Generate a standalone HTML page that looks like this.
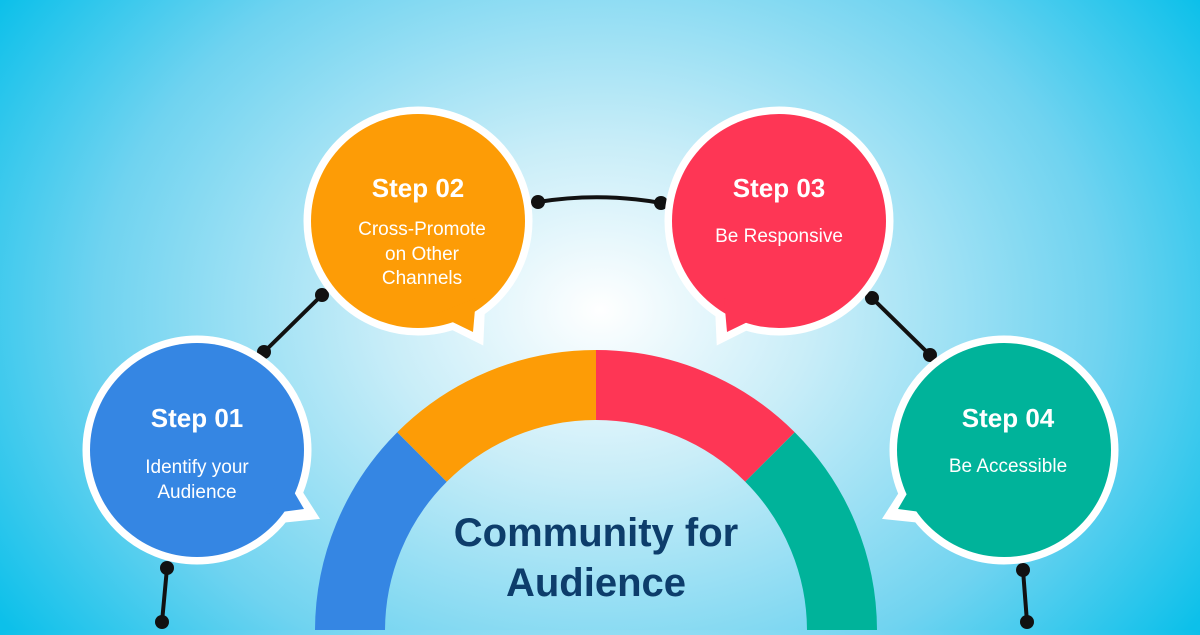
<!DOCTYPE html>
<html><head><meta charset="utf-8"><style>
html,body{margin:0;padding:0;}
body{width:1200px;height:630px;overflow:hidden;background:radial-gradient(ellipse 720px 560px at 600px 310px,#ffffff 0%,#c8edf8 30%,#6fd3f0 70%,#0cc0ea 100%);}
svg text{font-family:"Liberation Sans",sans-serif;}
</style></head><body>
<svg width="1200" height="630" viewBox="0 0 1200 630" xmlns="http://www.w3.org/2000/svg">
<g fill="none" stroke-width="70">
<path d="M350,631 A246,246 0 0 1 422,457" stroke="#3586e3"/>
<path d="M422,457 A246,246 0 0 1 596,385" stroke="#fd9c06"/>
<path d="M596,385 A246,246 0 0 1 770,457" stroke="#fe3655"/>
<path d="M770,457 A246,246 0 0 1 842,631" stroke="#00b39a"/>
</g>
<text x="596" y="546" text-anchor="middle" font-size="40" font-weight="bold" fill="#0d3d6b">Community for</text>
<text x="596" y="596" text-anchor="middle" font-size="40" font-weight="bold" fill="#0d3d6b">Audience</text>
<g stroke="#111" stroke-width="4" fill="none" stroke-linecap="round">
<path d="M264,352 L322,295"/>
<path d="M538,202 Q600,192 661,203"/>
<path d="M872,298 L930,355"/>
<path d="M167,568 L162,622"/>
<path d="M1023,570 L1027,622"/>
</g>
<g fill="#111">
<circle cx="264" cy="352" r="7"/><circle cx="322" cy="295" r="7"/>
<circle cx="538" cy="202" r="7"/><circle cx="661" cy="203" r="7"/>
<circle cx="872" cy="298" r="7"/><circle cx="930" cy="355" r="7"/>
<circle cx="167" cy="568" r="7"/><circle cx="162" cy="622" r="7"/>
<circle cx="1023" cy="570" r="7"/><circle cx="1027" cy="622" r="7"/>
</g>
<g fill="#fff" stroke="#fff" stroke-width="7" stroke-linejoin="miter">
<circle cx="197" cy="450" r="111"/>
<circle cx="418" cy="221" r="111"/>
<circle cx="779" cy="221" r="111"/>
<circle cx="1004" cy="450" r="111"/>
<path d="M282,466 L314,516 L266,521 Z"/>
<path d="M436,318 L480,340 L482,296 Z"/>
<path d="M764,318 L720,340 L718,296 Z"/>
<path d="M920,466 L888,516 L936,521 Z"/>
</g>
<g>
<circle cx="197" cy="450" r="107" fill="#3586e3"/>
<path d="M280,468 L304,509 L266,514 Z" fill="#3586e3"/>
<circle cx="418" cy="221" r="107" fill="#fd9c06"/>
<path d="M436,314 L473,332 L476,298 Z" fill="#fd9c06"/>
<circle cx="779" cy="221" r="107" fill="#fe3655"/>
<path d="M764,314 L727,332 L724,298 Z" fill="#fe3655"/>
<circle cx="1004" cy="450" r="107" fill="#00b39a"/>
<path d="M922,468 L898,509 L936,514 Z" fill="#00b39a"/>
</g>
<g fill="#fff" text-anchor="middle">
<text x="197" y="427" font-size="26" font-weight="bold">Step 01</text>
<text x="197" y="473" font-size="19">Identify your</text>
<text x="197" y="498" font-size="19">Audience</text>
<text x="418" y="197" font-size="26" font-weight="bold">Step 02</text>
<text x="422" y="235" font-size="19">Cross-Promote</text>
<text x="422" y="260" font-size="19">on Other</text>
<text x="422" y="284" font-size="19">Channels</text>
<text x="779" y="197" font-size="26" font-weight="bold">Step 03</text>
<text x="779" y="242" font-size="19">Be Responsive</text>
<text x="1008" y="427" font-size="26" font-weight="bold">Step 04</text>
<text x="1008" y="472" font-size="19">Be Accessible</text>
</g>
</svg>
</body></html>
